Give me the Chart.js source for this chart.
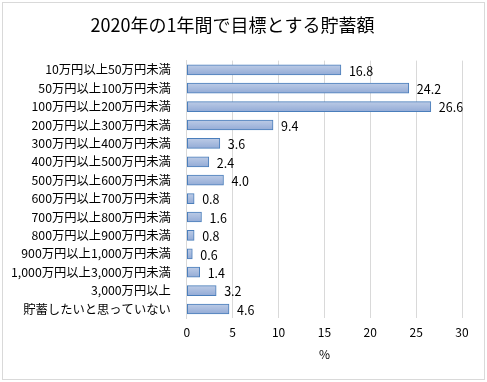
<!DOCTYPE html>
<html lang="ja">
<head>
    <meta charset="UTF-8">
    <title>2020年の1年間で目標とする貯蓄額</title>
    <script src="https://cdn.jsdelivr.net/npm/chart.js"></script>
    <style>
        body { margin: 0; background: #fff; }
        .frame { position: absolute; left: 2px; top: 2px; width: 481px; height: 376px; border: 1px solid #d9d9d9; }
    </style>
</head>
<body>
    <div class="frame"><canvas id="savingsChart"></canvas></div>

    <script>
        // Categories and values (%)
        const categories = [
            "10万円以上50万円未満", "50万円以上100万円未満", "100万円以上200万円未満",
            "200万円以上300万円未満", "300万円以上400万円未満", "400万円以上500万円未満",
            "500万円以上600万円未満", "600万円以上700万円未満", "700万円以上800万円未満",
            "800万円以上900万円未満", "900万円以上1,000万円未満", "1,000万円以上3,000万円未満",
            "3,000万円以上", "貯蓄したいと思っていない"
        ];
        const shares = [16.8, 24.2, 26.6, 9.4, 3.6, 2.4, 4.0, 0.8, 1.6, 0.8, 0.6, 1.4, 3.2, 4.6];
        const xTicks = [0, 5, 10, 15, 20, 25, 30];

        const FONT = "'Noto Sans CJK JP', 'Noto Sans', sans-serif";

        // Excel-like vertical gradient on each bar
        function barFill(context) {
            const chart = context.chart;
            const y = chart.scales && chart.scales.y;
            if (!y || !chart.chartArea) return "#a9bde0";
            const cy = y.getPixelForValue(context.dataIndex);
            const g = chart.ctx.createLinearGradient(0, cy - 5, 0, cy + 5);
            g.addColorStop(0, "#bccbe6");
            g.addColorStop(1, "#93abd6");
            return g;
        }

        // Value labels at the end of each bar
        const valueLabels = {
            id: "valueLabels",
            afterDatasetsDraw(chart) {
                const ctx = chart.ctx;
                const meta = chart.getDatasetMeta(0);
                ctx.save();
                ctx.font = "12.5px " + FONT;
                ctx.fillStyle = "#000";
                ctx.textAlign = "left";
                ctx.textBaseline = "middle";
                meta.data.forEach((bar, i) => {
                    ctx.fillText(shares[i].toFixed(1), bar.x + 8, bar.y + 1);
                });
                ctx.restore();
            }
        };

        new Chart(document.getElementById("savingsChart"), {
            type: "bar",
            data: {
                labels: categories,
                datasets: [{
                    data: shares,
                    backgroundColor: barFill,
                    borderColor: "#4a7ebb",
                    borderWidth: 1,
                    borderSkipped: false,
                    barThickness: 10
                }]
            },
            options: {
                indexAxis: "y",
                responsive: true,
                maintainAspectRatio: false,
                animation: false,
                layout: { padding: { left: 0, right: 22, top: 0, bottom: 17 } },
                plugins: {
                    legend: { display: false },
                    tooltip: { enabled: false },
                    title: {
                        display: true,
                        text: "2020年の1年間で目標とする貯蓄額",
                        color: "#000",
                        font: { family: FONT, size: 18, weight: "normal" },
                        padding: { top: 11, bottom: 25 }
                    }
                },
                scales: {
                    x: {
                        min: 0,
                        max: 30,
                        afterBuildTicks(axis) { axis.ticks = xTicks.map(v => ({ value: v })); },
                        grid: { color: "#d9d9d9", drawTicks: false },
                        border: { display: false },
                        ticks: { color: "#000", padding: 7, font: { family: FONT, size: 12 } },
                        title: {
                            display: true,
                            text: "%",
                            color: "#000",
                            font: { family: FONT, size: 12 },
                            padding: { top: 1, bottom: 0 }
                        }
                    },
                    y: {
                        grid: { display: false },
                        border: { display: true, color: "#d9d9d9" },
                        ticks: { color: "#000", padding: 8, autoSkip: false, font: { family: FONT, size: 12.3 } }
                    }
                }
            },
            plugins: [valueLabels]
        });
    </script>
</body>
</html>
